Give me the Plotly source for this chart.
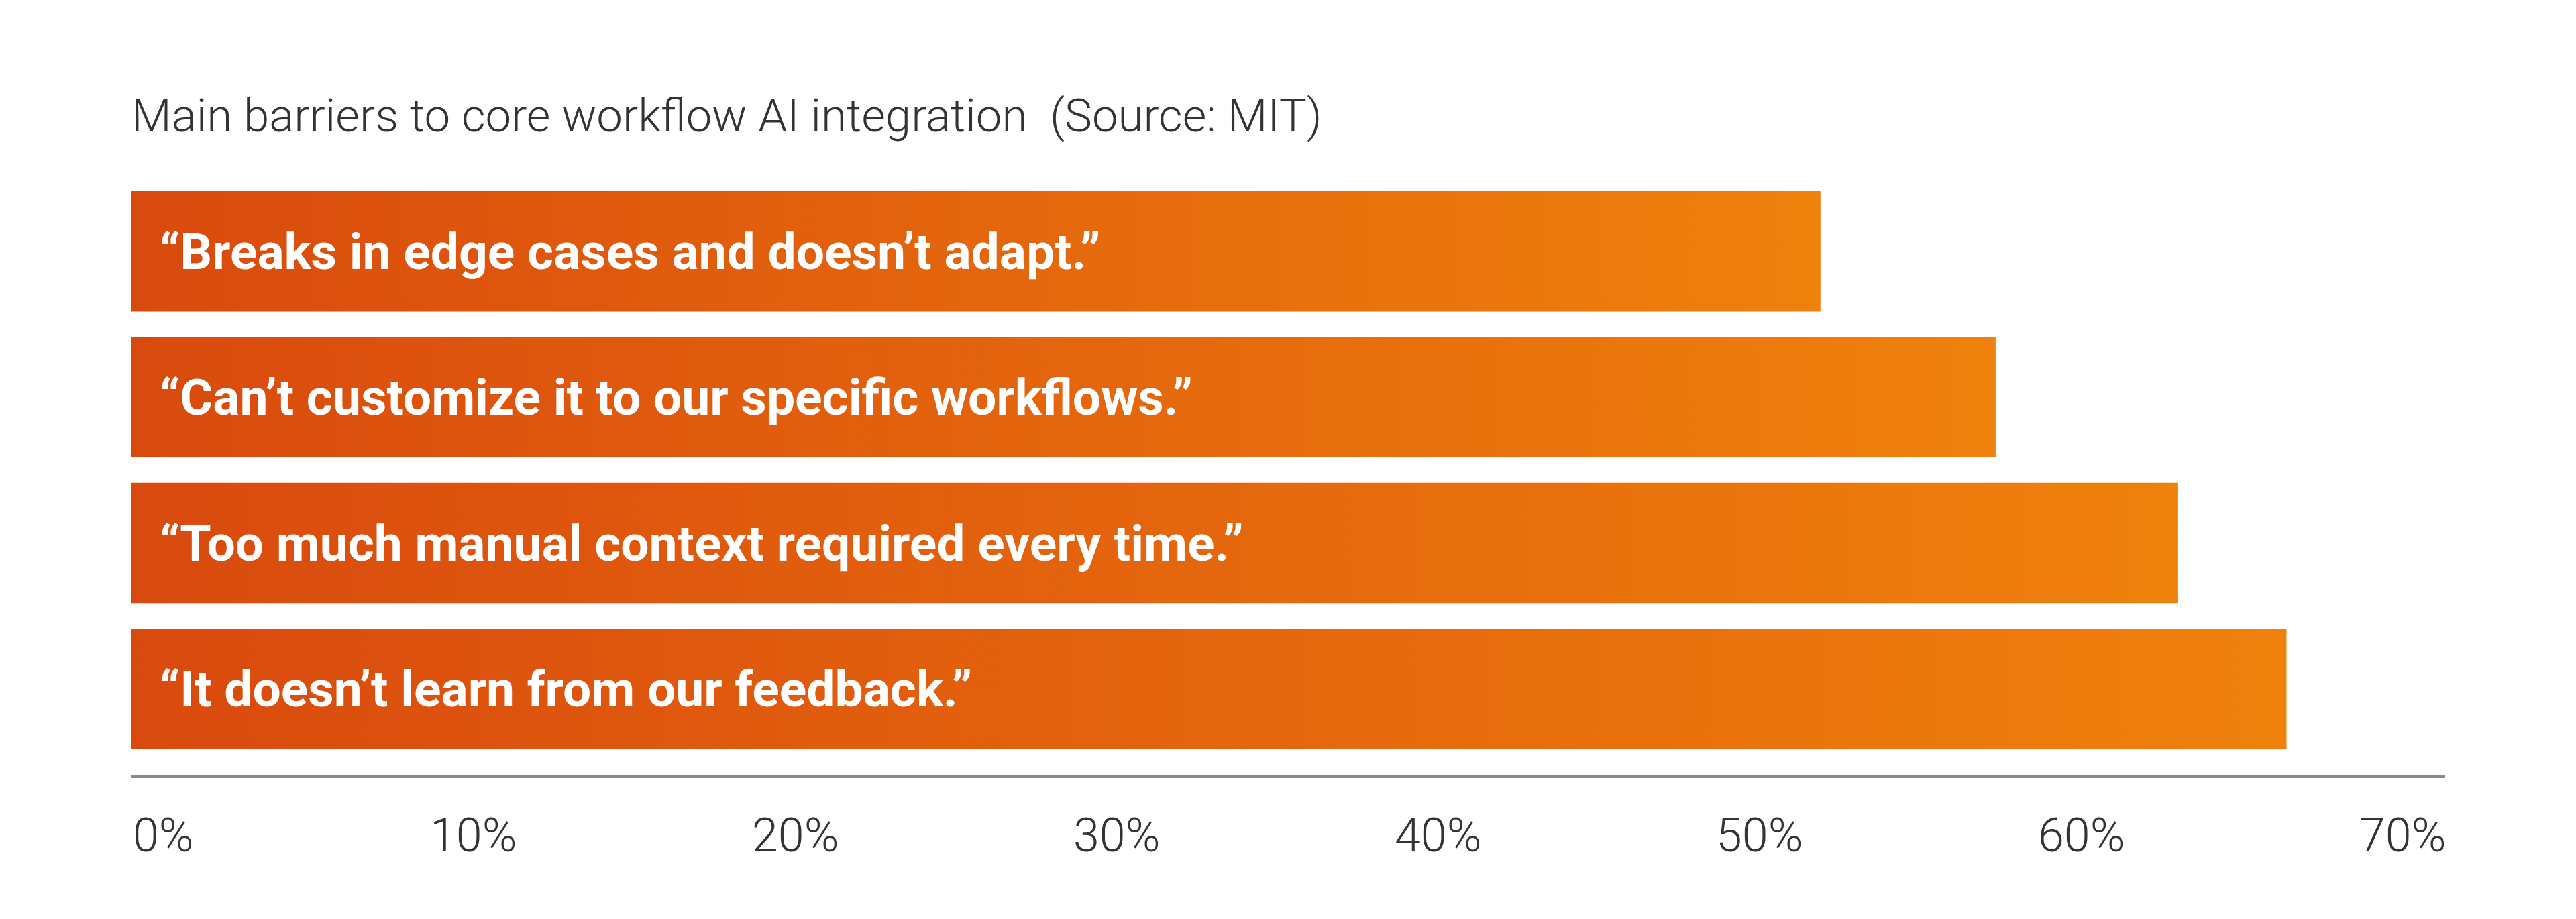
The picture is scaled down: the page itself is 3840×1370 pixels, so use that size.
import plotly.graph_objects as go

# barriers, top to bottom, share of respondents (%)
barriers = [
    "“Breaks in edge cases and doesn’t adapt.”",
    "“Can’t customize it to our specific workflows.”",
    "“Too much manual context required every time.”",
    "“It doesn’t learn from our feedback.”",
]
shares = [51.1, 56.4, 61.9, 65.2]

tick_vals = [0, 10, 20, 30, 40, 50, 60, 70]
tick_text = ["0%", "10%", "20%", "30%", "40%", "50%", "60%", "70%"]

title = "Main barriers to core workflow AI integration  (Source: MIT)"

LEFT_COLOR = "#D94A0E"
RIGHT_COLOR = "#EF810C"
TEXT_COLOR = "#333333"
FONT = "Roboto"
HALF = 0.413  # half bar thickness in category units

fig = go.Figure()

# gradient bars drawn as filled rectangles so they can take a fillgradient
for i, (name, v) in enumerate(zip(barriers, shares)):
    fig.add_trace(go.Scatter(
        x=[0, v, v, 0, 0],
        y=[i - HALF, i - HALF, i + HALF, i + HALF, i - HALF],
        mode="lines",
        line=dict(width=0),
        fill="toself",
        fillgradient=dict(type="horizontal",
                          colorscale=[[0, LEFT_COLOR], [1, RIGHT_COLOR]]),
        name=name,
        hoverinfo="skip",
        showlegend=False,
    ))
    fig.add_annotation(
        x=0, y=i, xref="x", yref="y", text="<b>" + name + "</b>",
        xanchor="left", yanchor="middle", xshift=40, showarrow=False,
        font=dict(family=FONT, size=75, color="white"),
    )

# tick labels spread like a justify-between row under the axis
plot_w = 3449
widths = [94] + [127] * (len(tick_text) - 1)
gap = (plot_w - sum(widths)) / (len(tick_text) - 1)
pos = 0
for k, (tv, tt) in enumerate(zip(tick_vals, tick_text)):
    centre = pos + widths[k] / 2
    tick_px = tv / tick_vals[-1] * plot_w
    fig.add_annotation(
        x=tv, y=0, xref="x", yref="paper", text=tt,
        xanchor="center", yanchor="middle", xshift=centre - tick_px,
        yshift=-90, showarrow=False,
        font=dict(family=FONT, size=70, color=TEXT_COLOR, weight=300),
    )
    pos += widths[k] + gap

fig.add_annotation(
    x=0, y=1, xref="paper", yref="paper", text=title,
    xanchor="left", yanchor="middle", yshift=94, xshift=-2, showarrow=False,
    font=dict(family=FONT, size=69, color=TEXT_COLOR, weight=300),
)

fig.update_layout(
    width=3840, height=1370,
    margin=dict(l=188, r=203, t=258, b=223),
    paper_bgcolor="white", plot_bgcolor="white",
    showlegend=False,
    xaxis=dict(range=[0, 70], tickvals=tick_vals, showticklabels=False,
               showgrid=False, zeroline=False, showline=True,
               linecolor="#8a8a8a", linewidth=5, ticks="", fixedrange=True),
    yaxis=dict(range=[3.589, -0.5], showgrid=False, zeroline=False,
               showticklabels=False, showline=False, fixedrange=True),
)

fig.write_html("out.html")
